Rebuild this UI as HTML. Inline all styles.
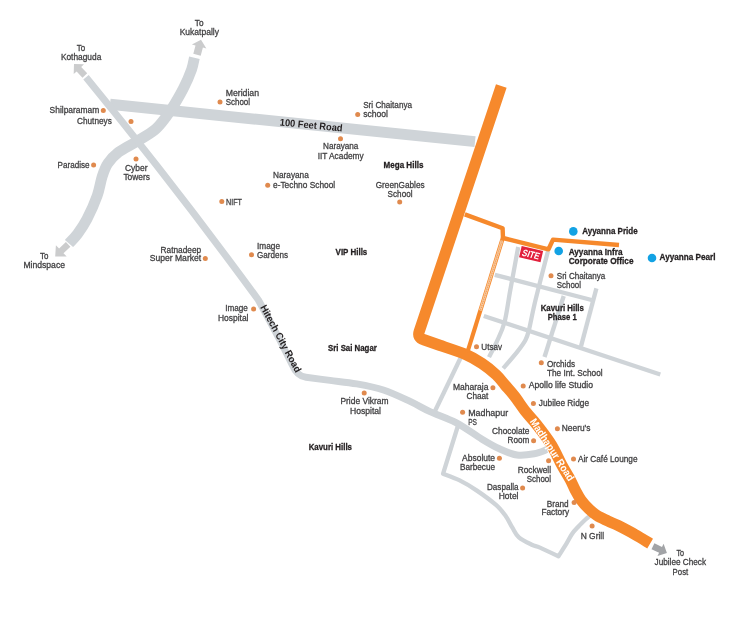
<!DOCTYPE html><html><head><meta charset="utf-8"><style>html,body{margin:0;padding:0;background:#fff;overflow:hidden}svg{display:block;filter:blur(0.35px);}</style></head><body>
<svg width="749" height="620" viewBox="0 0 749 620">
<rect width="749" height="620" fill="#fff"/>
<g fill="none" stroke="#cfd4d8" stroke-linejoin="round">
<g stroke-width="4.3">
<path d="M494.8 274.8 L591.6 300"/>
<path d="M483.8 316 L660.3 374.5"/>
<path d="M518.2 247.0 C516.9 254.2 512.6 277.4 510.3 290.0 C508.0 302.6 506.8 313.7 504.5 322.3 C502.2 330.9 499.4 335.8 496.8 341.6 C494.2 347.4 490.3 354.5 489.0 357.1"/>
<path d="M548.0 251.0 C545.9 259.2 538.7 286.9 535.5 300.0 C532.3 313.1 530.7 323.0 529.0 329.7 C527.3 336.4 527.4 336.4 525.5 340.0 C523.6 343.6 521.1 346.9 517.4 351.6 C513.7 356.3 505.6 365.6 503.2 368.4"/>
<path d="M563.7 296 L544.5 357"/>
<path d="M596.4 288.4 L581 346.4"/>
<path d="M461 357 L435 411"/>
<path d="M458.5 424 L443.1 473.7  C445.8 474.8 453.6 477.4 459.2 480.2 C464.8 483.0 470.7 486.4 476.9 490.6 C483.1 494.8 491.4 500.9 496.3 505.2 C501.2 509.5 503.3 512.8 506.0 516.5 C508.7 520.2 510.2 524.2 512.4 527.7 C514.5 531.2 515.7 534.6 518.9 537.4 C522.1 540.2 528.3 543.0 531.8 544.7 C535.3 546.4 535.6 545.7 540.0 547.6 C544.4 549.5 555.3 554.8 558.4 556.3 C559.5 554.5 562.9 549.4 565.2 545.7 C567.5 542.0 569.8 537.2 572.0 534.0 C574.2 530.8 576.3 528.9 578.7 526.3 C581.1 523.7 584.5 520.5 586.5 518.6 C588.5 516.7 590.2 515.6 591.0 515.0"/>
</g>
<path d="M110 104.3 L475 141.6" stroke-width="11"/>
<path d="M194.4 57.7 C193.9 59.7 193.3 64.5 191.6 69.4 C189.8 74.4 186.8 81.6 183.9 87.4 C181.1 93.2 177.5 99.2 174.5 104.2 C171.5 109.2 169.2 112.8 165.9 117.1 C162.6 121.4 159.6 125.9 154.6 130.0 C149.6 134.1 142.1 138.1 136.1 141.8 C130.1 145.5 123.1 148.7 118.4 152.3 C113.7 155.9 110.5 159.5 107.8 163.5 C105.1 167.5 104.0 171.1 102.2 176.5 C100.4 181.9 99.7 188.7 97.2 195.8 C94.7 202.9 90.3 212.6 87.0 219.0 C83.7 225.4 80.5 229.9 77.5 234.0 C74.5 238.1 70.4 241.9 69.0 243.5" stroke-width="10.8"/>
<path d="M86 77.3 Q175.4 186.3 258.4 300  C263.1 308.6 273.4 327.7 279.0 338.5 C284.6 349.3 290.1 360.6 292.3 365.0 Q297 376.3 306 377.3 C310.0 377.8 321.6 379.3 330.0 380.4 C338.4 381.5 347.8 382.3 356.7 383.9 C365.6 385.5 374.5 387.1 383.4 390.0 C392.3 392.9 402.3 397.8 410.1 401.4 C417.9 405.0 422.4 408.1 430.0 411.6 C437.6 415.1 447.3 418.0 456.0 422.6 C464.7 427.2 474.8 434.8 482.0 439.2 C489.2 443.6 493.6 446.2 499.4 448.8 C505.2 451.4 511.2 454.2 517.0 455.0 C522.8 455.8 529.2 454.7 534.2 453.8 C539.2 452.9 544.9 450.2 547.0 449.5" stroke-width="7"/>
</g>
<g fill="#cbcccd">
<polygon points="74.0,64.0 84.0,64.3 81.2,67.0 87.2,73.3 82.5,77.7 76.6,71.4 73.7,74.0"/>
<polygon points="201.0,39.8 206.4,48.5 202.9,47.5 200.7,55.8 193.3,53.8 195.5,45.6 191.9,44.6"/>
<polygon points="55.2,256.6 55.9,245.2 59.1,248.5 65.9,242.0 70.4,246.7 63.5,253.2 66.7,256.5"/>
</g>
<polygon fill="#a2a4a7" points="666.9,553.0 657.5,556.1 659.1,552.8 651.5,549.2 654.4,543.2 662.0,546.9 663.6,543.7"/>
<g fill="none" stroke="#f6892c" stroke-linejoin="round">
<path d="M501.3 86 L419.2 331.5 Q417.2 337.6 423.5 339.6 L440 345.4  C444.3 346.9 458.8 351.5 465.8 354.5 C472.8 357.5 476.9 360.1 482.0 363.5 C487.1 366.9 492.6 371.4 496.4 375.0 C500.2 378.6 502.0 381.5 505.0 385.0 C508.0 388.5 510.9 391.5 514.4 396.0 C517.9 400.5 522.0 407.0 525.8 411.8 C529.6 416.6 532.7 419.5 537.0 425.0 C541.3 430.5 547.4 438.3 551.5 445.0 C555.6 451.7 558.6 459.2 561.8 465.0 C564.9 470.8 568.2 475.8 570.4 480.0 C572.6 484.2 573.4 486.7 575.2 490.0 C577.0 493.3 578.7 496.8 581.0 500.0 C583.3 503.2 586.3 506.4 589.0 509.0 C591.7 511.6 593.8 513.5 597.0 515.5 C600.2 517.5 604.5 519.3 608.0 521.0 C611.5 522.7 613.7 523.3 618.2 525.6 C622.7 527.9 629.8 531.6 635.1 534.6 C640.4 537.6 647.6 542.1 650.1 543.6" stroke-width="11.2" stroke-linecap="butt"/>
<path d="M464.8 214.4 L502.6 228.2 L503 238 L548.5 249.3 L553 239.6 L619 245" stroke-width="4.4"/>
<path d="M502.8 238 L467.5 352" stroke-width="4.2"/>
</g>
<path d="M502 240.5 L480.3 310.5" stroke="#f7cfa8" stroke-width="2.6"/>
<path d="M502 240.5 L480.3 310.5" stroke="#f19a55" stroke-width="1.3" stroke-dasharray="1.2 0.9"/>
<g transform="translate(531.1 254.1) rotate(13.2)"><rect x="-11" y="-5.7" width="22" height="11.4" fill="#e2203c"/><text x="0" y="3.6" transform="skewX(-8)" text-anchor="middle" font-family="Liberation Sans" font-weight="700" font-size="9.6" fill="#fff" textLength="17.5" lengthAdjust="spacingAndGlyphs">SITE</text></g>
<g fill="#e08a4e"><circle cx="103.3" cy="110.6" r="2.5"/><circle cx="131" cy="121.5" r="2.5"/><circle cx="93.6" cy="165" r="2.5"/><circle cx="136" cy="159" r="2.5"/><circle cx="220" cy="102" r="2.5"/><circle cx="221.8" cy="201.5" r="2.5"/><circle cx="205.3" cy="258.6" r="2.5"/><circle cx="251.5" cy="254.7" r="2.5"/><circle cx="253.6" cy="309" r="2.5"/><circle cx="357.7" cy="114.6" r="2.5"/><circle cx="340.5" cy="138.8" r="2.5"/><circle cx="267.7" cy="185.2" r="2.5"/><circle cx="399.7" cy="202" r="2.5"/><circle cx="364.2" cy="393.1" r="2.5"/><circle cx="551" cy="275.8" r="2.5"/><circle cx="476.5" cy="346.8" r="2.5"/><circle cx="541.3" cy="362.8" r="2.5"/><circle cx="523.2" cy="386" r="2.5"/><circle cx="492.9" cy="387.7" r="2.5"/><circle cx="533.4" cy="403.4" r="2.5"/><circle cx="462.6" cy="412.2" r="2.5"/><circle cx="557.4" cy="428.7" r="2.5"/><circle cx="533.6" cy="440.8" r="2.5"/><circle cx="499.4" cy="458.2" r="2.5"/><circle cx="573.5" cy="459" r="2.5"/><circle cx="548.6" cy="460.8" r="2.5"/><circle cx="522.6" cy="487.9" r="2.5"/><circle cx="574.1" cy="502.4" r="2.5"/><circle cx="592.1" cy="526" r="2.5"/></g>
<g fill="#12a2e4"><circle cx="573.3" cy="231.4" r="4.3"/><circle cx="558.7" cy="251" r="4.3"/><circle cx="652" cy="258" r="4.3"/></g>
<g font-family="Liberation Sans" font-size="9.2" fill="#414042" stroke="#414042" stroke-width="0.3">
<text x="76.7" y="50.6" textLength="8.4" lengthAdjust="spacingAndGlyphs">To</text>
<text x="60.9" y="59.8" textLength="40.4" lengthAdjust="spacingAndGlyphs">Kothaguda</text>
<text x="194.8" y="25.8" textLength="8.7" lengthAdjust="spacingAndGlyphs">To</text>
<text x="179.7" y="35.2" textLength="39.3" lengthAdjust="spacingAndGlyphs">Kukatpally</text>
<text x="225.7" y="96" textLength="33.3" lengthAdjust="spacingAndGlyphs">Meridian</text>
<text x="225.7" y="104.7" textLength="24.3" lengthAdjust="spacingAndGlyphs">School</text>
<text x="49.6" y="113.3" textLength="49.6" lengthAdjust="spacingAndGlyphs">Shilparamam</text>
<text x="77" y="124.3" textLength="34.8" lengthAdjust="spacingAndGlyphs">Chutneys</text>
<text x="57.6" y="167.9" textLength="31.9" lengthAdjust="spacingAndGlyphs">Paradise</text>
<text x="125" y="170.7" textLength="22.6" lengthAdjust="spacingAndGlyphs">Cyber</text>
<text x="123.4" y="179.5" textLength="26.6" lengthAdjust="spacingAndGlyphs">Towers</text>
<text x="40" y="258.8" textLength="8.4" lengthAdjust="spacingAndGlyphs">To</text>
<text x="23.4" y="267.8" textLength="41.6" lengthAdjust="spacingAndGlyphs">Mindspace</text>
<text x="226" y="205" textLength="16.0" lengthAdjust="spacingAndGlyphs">NIFT</text>
<text x="160.6" y="252.6" textLength="40.6" lengthAdjust="spacingAndGlyphs">Ratnadeep</text>
<text x="149.7" y="261.2" textLength="51.5" lengthAdjust="spacingAndGlyphs">Super Market</text>
<text x="257" y="248.8" textLength="23.0" lengthAdjust="spacingAndGlyphs">Image</text>
<text x="257" y="258" textLength="31.0" lengthAdjust="spacingAndGlyphs">Gardens</text>
<text x="225.2" y="311.4" textLength="22.6" lengthAdjust="spacingAndGlyphs">Image</text>
<text x="218" y="321" textLength="30.5" lengthAdjust="spacingAndGlyphs">Hospital</text>
<text x="363.2" y="107.6" textLength="48.8" lengthAdjust="spacingAndGlyphs">Sri Chaitanya</text>
<text x="363.2" y="117.4" textLength="24.8" lengthAdjust="spacingAndGlyphs">school</text>
<text x="323" y="149.1" textLength="35.4" lengthAdjust="spacingAndGlyphs">Narayana</text>
<text x="317.7" y="158.5" textLength="46.0" lengthAdjust="spacingAndGlyphs">IIT Academy</text>
<text x="273" y="178" textLength="35.8" lengthAdjust="spacingAndGlyphs">Narayana</text>
<text x="273" y="187.8" textLength="62.2" lengthAdjust="spacingAndGlyphs">e-Techno School</text>
<text x="375.7" y="187.8" textLength="48.9" lengthAdjust="spacingAndGlyphs">GreenGables</text>
<text x="387.6" y="197.1" textLength="24.9" lengthAdjust="spacingAndGlyphs">School</text>
<text x="340.4" y="404" textLength="48.1" lengthAdjust="spacingAndGlyphs">Pride Vikram</text>
<text x="350" y="413.7" textLength="31.0" lengthAdjust="spacingAndGlyphs">Hospital</text>
<text x="556.8" y="278.7" textLength="48.4" lengthAdjust="spacingAndGlyphs">Sri Chaitanya</text>
<text x="556.8" y="287.8" textLength="24.2" lengthAdjust="spacingAndGlyphs">School</text>
<text x="481.3" y="349.7" textLength="20.7" lengthAdjust="spacingAndGlyphs">Utsav</text>
<text x="546.9" y="366.8" textLength="28.1" lengthAdjust="spacingAndGlyphs">Orchids</text>
<text x="546.9" y="376" textLength="55.7" lengthAdjust="spacingAndGlyphs">The Int. School</text>
<text x="528.7" y="388.4" textLength="64.3" lengthAdjust="spacingAndGlyphs">Apollo life Studio</text>
<text x="452.9" y="389.6" textLength="35.5" lengthAdjust="spacingAndGlyphs">Maharaja</text>
<text x="466.5" y="399" textLength="21.9" lengthAdjust="spacingAndGlyphs">Chaat</text>
<text x="538.8" y="406.2" textLength="50.2" lengthAdjust="spacingAndGlyphs">Jubilee Ridge</text>
<text x="468.2" y="415.6" textLength="39.9" lengthAdjust="spacingAndGlyphs">Madhapur</text>
<text x="468.2" y="424.9" textLength="8.8" lengthAdjust="spacingAndGlyphs">PS</text>
<text x="561.8" y="430.8" textLength="28.6" lengthAdjust="spacingAndGlyphs">Neeru's</text>
<text x="492" y="433.9" textLength="37.5" lengthAdjust="spacingAndGlyphs">Chocolate</text>
<text x="507.6" y="443.4" textLength="21.7" lengthAdjust="spacingAndGlyphs">Room</text>
<text x="462.1" y="460.8" textLength="33.0" lengthAdjust="spacingAndGlyphs">Absolute</text>
<text x="460" y="469.7" textLength="35.0" lengthAdjust="spacingAndGlyphs">Barbecue</text>
<text x="578" y="461.5" textLength="59.5" lengthAdjust="spacingAndGlyphs">Air Café Lounge</text>
<text x="517.7" y="472.6" textLength="33.3" lengthAdjust="spacingAndGlyphs">Rockwell</text>
<text x="526.7" y="481.6" textLength="24.3" lengthAdjust="spacingAndGlyphs">School</text>
<text x="487" y="490.2" textLength="31.5" lengthAdjust="spacingAndGlyphs">Daspalla</text>
<text x="498.7" y="499" textLength="19.8" lengthAdjust="spacingAndGlyphs">Hotel</text>
<text x="546.7" y="506.7" textLength="22.0" lengthAdjust="spacingAndGlyphs">Brand</text>
<text x="541.4" y="515.4" textLength="27.7" lengthAdjust="spacingAndGlyphs">Factory</text>
<text x="580.7" y="538.8" textLength="23.4" lengthAdjust="spacingAndGlyphs">N Grill</text>
<text x="676.4" y="556.2" textLength="7.6" lengthAdjust="spacingAndGlyphs">To</text>
<text x="654.6" y="565.3" textLength="51.4" lengthAdjust="spacingAndGlyphs">Jubilee Check</text>
<text x="672.6" y="574.8" textLength="15.6" lengthAdjust="spacingAndGlyphs">Post</text>
</g>
<g font-family="Liberation Sans" font-size="9.2" font-weight="700" fill="#231f20" stroke="#231f20" stroke-width="0.3">
<text x="383.5" y="168" textLength="39.9" lengthAdjust="spacingAndGlyphs">Mega Hills</text>
<text x="335.6" y="255" textLength="31.7" lengthAdjust="spacingAndGlyphs">VIP Hills</text>
<text x="328" y="350.8" textLength="48.8" lengthAdjust="spacingAndGlyphs">Sri Sai Nagar</text>
<text x="308.7" y="449.5" textLength="43.3" lengthAdjust="spacingAndGlyphs">Kavuri Hills</text>
<text x="540.7" y="310.6" textLength="43.2" lengthAdjust="spacingAndGlyphs">Kavuri Hills</text>
<text x="547.7" y="319.9" textLength="29.0" lengthAdjust="spacingAndGlyphs">Phase 1</text>
<text x="582.2" y="234.1" textLength="55.5" lengthAdjust="spacingAndGlyphs">Ayyanna Pride</text>
<text x="568.7" y="255.3" textLength="53.9" lengthAdjust="spacingAndGlyphs">Ayyanna Infra</text>
<text x="568.7" y="264" textLength="64.8" lengthAdjust="spacingAndGlyphs">Corporate Office</text>
<text x="659.6" y="260" textLength="55.9" lengthAdjust="spacingAndGlyphs">Ayyanna Pearl</text>
</g>
<text transform="translate(279.5 125.4) rotate(5.6)" font-family="Liberation Sans" font-size="10" font-weight="700" fill="#231f20" textLength="63" lengthAdjust="spacingAndGlyphs">100 Feet Road</text>
<text transform="translate(260 307.3) rotate(61.5)" font-family="Liberation Sans" font-size="10" font-weight="700" fill="#231f20" textLength="75" lengthAdjust="spacingAndGlyphs">Hitech City Road</text>
<text transform="translate(552.5 449.5) rotate(57)" text-anchor="middle" dominant-baseline="central" font-family="Liberation Sans" font-size="10.6" font-weight="700" fill="#fff" textLength="72" lengthAdjust="spacingAndGlyphs">Madhapur Road</text>
</svg></body></html>
